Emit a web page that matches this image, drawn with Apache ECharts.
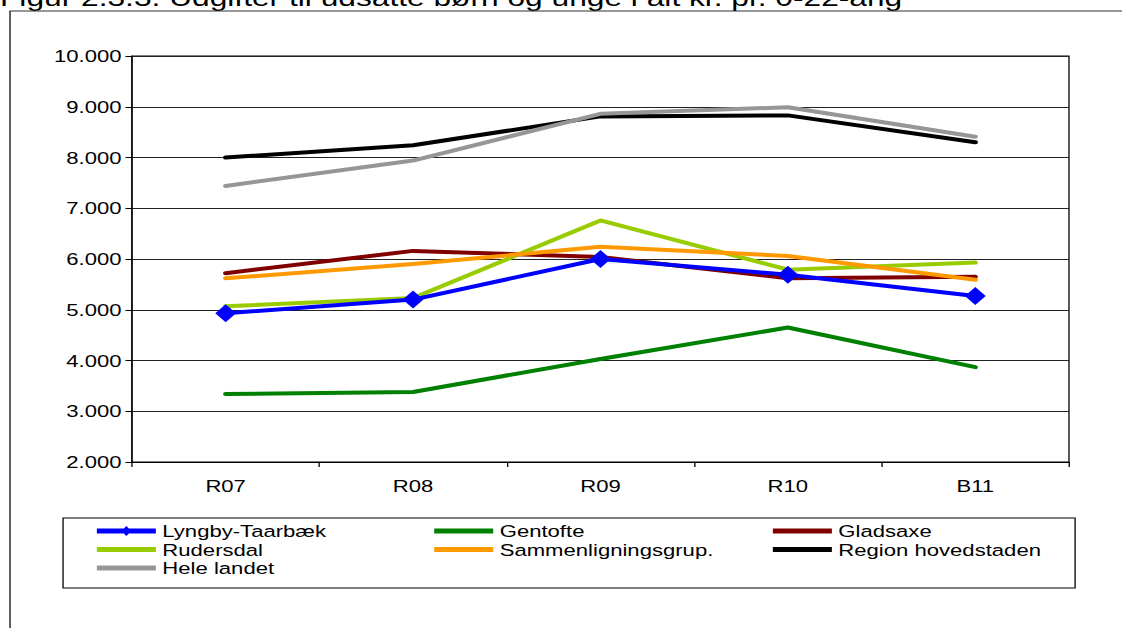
<!DOCTYPE html>
<html>
<head>
<meta charset="utf-8">
<script src="https://cdn.jsdelivr.net/npm/echarts@6/dist/echarts.min.js"></script>
<style>
  html, body { margin: 0; padding: 0; background: #fff; overflow: hidden; }
  #wrap { width: 1122px; height: 628px; overflow: hidden; position: relative; }
  #chart { width: 863.08px; height: 628px; transform: scaleX(1.3); transform-origin: 0 0; }
</style>
</head>
<body>
<div id="wrap"><div id="chart"></div></div>
<script>
// ---- data ----
const titleText = 'Figur 2.3.3. Udgifter til udsatte børn og unge i alt kr. pr. 0-22-årig';
const categories = ['R07', 'R08', 'R09', 'R10', 'B11'];
const yTicks = [2000, 3000, 4000, 5000, 6000, 7000, 8000, 9000, 10000];
const seriesNames = ['Lyngby-Taarbæk', 'Gentofte', 'Gladsaxe', 'Rudersdal', 'Sammenligningsgrup.', 'Region hovedstaden', 'Hele landet'];
const lyngby    = [4930, 5200, 6000, 5690, 5270];
const gentofte  = [3340, 3380, 4030, 4650, 3870];
const gladsaxe  = [5720, 6160, 6040, 5620, 5650];
const rudersdal = [5070, 5230, 6760, 5790, 5930];
const sammen    = [5620, 5900, 6240, 6060, 5590];
const region    = [8000, 8240, 8810, 8830, 8300];
const hele      = [7440, 7940, 8860, 8990, 8410];
const colors = ['#0000FF', '#008000', '#800000', '#99CC00', '#FF9900', '#000000', '#969696'];

// ---- chart ----
const FONT = '"Liberation Sans", Arial, sans-serif';
const values = [lyngby, gentofte, gladsaxe, rudersdal, sammen, region, hele];
const chart = echarts.init(document.getElementById('chart'), null, { renderer: 'svg' });

function fmt(v) { return String(v).replace(/\B(?=(\d{3})+(?!\d))/g, '.'); }

// legend icons: a thick line (with a diamond for the marker series), inside a 45x14 box
const ICON_LINE = 'path://M0,0L0,0Z M0,4.5L45,4.5L45,9.5L0,9.5Z M45,14L45,14Z';
const ICON_LINE_DIAMOND = 'path://M0,0L0,0Z M0,4.5L45,4.5L45,9.5L0,9.5Z M22.5,2L26.3,7L22.5,12L18.7,7Z M45,14L45,14Z';
function legendItem(i) {
  return { name: seriesNames[i], icon: i === 0 ? ICON_LINE_DIAMOND : ICON_LINE };
}

const series = seriesNames.map((name, i) => ({
  name: name,
  type: 'line',
  data: values[i],
  symbol: i === 0 ? 'diamond' : 'none',
  symbolSize: [16, 18],
  showSymbol: i === 0,
  z: i === 0 ? 3 : 2,
  itemStyle: { color: colors[i] },
  lineStyle: { color: colors[i], width: 4, cap: 'round', join: 'round' },
  emphasis: { disabled: true }
}));

const legendCommon = {
  orient: 'vertical',
  top: 521.75,
  padding: 0,
  itemWidth: 45.4,
  itemHeight: 14,
  itemGap: 0,
  selectedMode: false,
  symbolKeepAspect: false,
  textStyle: { fontFamily: FONT, fontSize: 17, color: '#000', lineHeight: 18.5 }
};

chart.setOption({
  animation: false,
  backgroundColor: '#fff',
  color: colors,
  grid: {
    left: 101.5, top: 56, width: 720.8, height: 406,
    show: true, borderColor: '#000', borderWidth: 1, backgroundColor: 'transparent'
  },
  legend: [
    Object.assign({}, legendCommon, { left: 74.5, data: [legendItem(0), legendItem(3), legendItem(6)] }),
    Object.assign({}, legendCommon, { left: 334, data: [legendItem(1), legendItem(4)] }),
    Object.assign({}, legendCommon, { left: 594.5, data: [legendItem(2), legendItem(5)] })
  ],
  xAxis: {
    type: 'category',
    data: categories,
    boundaryGap: true,
    axisLine: { lineStyle: { color: '#000', width: 1 } },
    axisTick: { show: true, length: 5, inside: false, lineStyle: { color: '#000' } },
    axisLabel: { fontFamily: FONT, fontSize: 17, color: '#000', margin: 15 },
    splitLine: { show: false }
  },
  yAxis: {
    type: 'value',
    min: yTicks[0], max: yTicks[yTicks.length - 1], interval: yTicks[1] - yTicks[0],
    axisLine: { show: true, lineStyle: { color: '#000', width: 1 } },
    axisTick: { show: true, length: 5, inside: false, lineStyle: { color: '#000' } },
    axisLabel: { fontFamily: FONT, fontSize: 17, color: '#000', margin: 8, formatter: fmt },
    splitLine: { show: true, lineStyle: { color: '#222', width: 1 } }
  },
  graphic: [
    {
      type: 'text', z: -30, silent: true,
      style: { text: titleText, x: 0, y: -2.5, font: '24.4px ' + FONT, fill: '#000', verticalAlign: 'middle', align: 'left' }
    },
    {
      type: 'rect', z: -20, silent: true,
      shape: { x: 7.7, y: 11, width: 1000, height: 800 },
      style: { fill: '#fff', stroke: null }
    },
    {
      type: 'line', z: -19, silent: true,
      shape: { x1: 7.3, y1: 11, x2: 870, y2: 11 },
      style: { stroke: '#333', lineWidth: 1.2 }
    },
    {
      type: 'line', z: -19, silent: true,
      shape: { x1: 7.7, y1: 11, x2: 7.7, y2: 640 },
      style: { stroke: '#333', lineWidth: 1.2 }
    },
    {
      type: 'rect', z: -10, silent: true,
      shape: { x: 48.5, y: 518, width: 778.5, height: 70 },
      style: { fill: 'transparent', stroke: '#000', lineWidth: 1 }
    }
  ],
  series: series
});
</script>
</body>
</html>
